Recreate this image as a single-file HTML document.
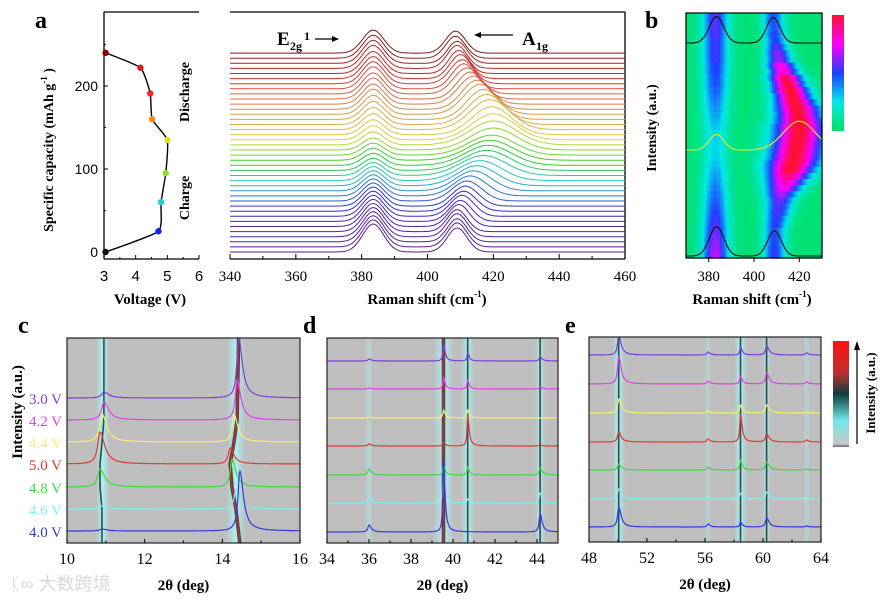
<!DOCTYPE html>
<html><head><meta charset="utf-8"><style>
html,body{margin:0;padding:0;background:#fff;}
svg{display:block;font-family:"Liberation Serif",serif;}
</style></head><body>
<svg id="fig" width="895" height="604" viewBox="0 0 895 604" xmlns="http://www.w3.org/2000/svg">
<defs>
<clipPath id="clipC"><rect x="67" y="338" width="233" height="205"/></clipPath>
<clipPath id="clipD"><rect x="327" y="338" width="231" height="205"/></clipPath>
<clipPath id="clipE"><rect x="589" y="337" width="232" height="205"/></clipPath>
<linearGradient id="glow" x1="0" x2="1" y1="0" y2="0">
<stop offset="0" stop-color="#9ff" stop-opacity="0"/><stop offset="0.5" stop-color="#aff" stop-opacity="0.85"/><stop offset="1" stop-color="#9ff" stop-opacity="0"/></linearGradient>
<linearGradient id="cbarE" x1="0" x2="0" y1="0" y2="1">
<stop offset="0" stop-color="#ff1010"/><stop offset="0.3" stop-color="#c03030"/><stop offset="0.5" stop-color="#103c3c"/><stop offset="0.75" stop-color="#70e8e8"/><stop offset="0.97" stop-color="#c8c8c8"/><stop offset="1" stop-color="#666"/></linearGradient>
<linearGradient id="cbarB" x1="0" x2="0" y1="0" y2="1">
<stop offset="0" stop-color="#ff1030"/><stop offset="0.25" stop-color="#ff00ff"/><stop offset="0.5" stop-color="#2040ff"/><stop offset="0.75" stop-color="#00e8e8"/><stop offset="1" stop-color="#00e060"/></linearGradient>
</defs>
<g id="layer"></g>
</svg>
<script>
// ---------- DATA ----------
const capVoltage = [3.05, 4.72, 4.8, 4.95, 5.0, 4.52, 4.46, 4.15, 3.05];
const capValues  = [0, 25, 60, 95, 135, 160, 191, 222, 240];
const capColors  = ["#111","#1020ff","#20d0d0","#90e020","#e0e020","#ff8c10","#ff2020","#d02020","#8b0000"];
const capTicksY = [0, 100, 200];
const capTicksX = [3, 4, 5, 6];
const ramanE2gPos = 383.5;
const ramanE2gH = [28,27,26,25,24,23,22,21,20,19,18,17,16,15,14,13,12,12,12,12,12,13,14,15,16,17,18,19,20,20,21,21,22,22,22,22,23,23,23,23];
const ramanA1gPos = [409,409,409,409,409,409.5,410,410.5,411,411.5,412,413,414,415,416,417,418,418.5,419,419.5,420,420,420,419.5,419,418,417,416,415,414,413,412,411,410.5,410,409.5,409,409,408.5,408.5];
const ramanA1gW = [3,3,3,3,3,3.2,3.4,3.6,3.8,4,4.5,5,5.5,6,6.5,7,7,7,7,7,7,7,6.5,6,6,5.5,5,5,4.5,4.5,4,4,3.5,3.5,3.2,3,3,3,3,3];
const ramanA1gH = [24,24,23,23,22,22,21,21,20,20,20,20,20,20,20,20,20,20,20,20,22,24,26,28,30,30,30,30,29,28,27,26,25,24,24,23,23,22,22,22];
const ramanTicks = [340,360,380,400,420,440,460];
const bTicks = [380,400,420];
const voltLabels = ["3.0 V","4.2 V","4.4 V","5.0 V","4.8 V","4.6 V","4.0 V"];
const voltColors = ["#7a40d8","#e040e8","#f0f070","#e03838","#40d840","#80f0f0","#3838e0"];
const cPeaks = [10.92, 14.35];
const cPeakPos = [[10.95,10.95,10.9,10.85,10.85,10.9,10.9],[14.42,14.38,14.3,14.2,14.25,14.35,14.45]];
const cPeakH = [[6,18,28,32,18,3,2],[60,40,28,16,28,20,60]];
const cTicks = [10,12,14,16];
const dPeaks = [36.0, 39.55, 40.7, 44.15];
const dPeakH = [[2,1,1,2,6,6,7],[18,12,8,4,10,30,70],[8,9,8,30,8,4,0],[4,2,0,1,7,10,18]];
const dTicks = [34,36,38,40,42,44];
const ePeaks = [50.05, 56.2, 58.45, 60.25, 63.0];
const ePeakH = [[20,28,14,10,6,10,20],[3,3,2,3,3,2,3],[8,8,8,28,10,6,5],[9,11,8,8,8,7,9],[2,2,1,2,1,1,1]];
const eTicks = [48,52,56,60,64];

// ---------- helpers ----------
const NS = "http://www.w3.org/2000/svg";
const layer = document.getElementById("layer");
function mk(tag, attrs, parent){ const e=document.createElementNS(NS,tag); for(const k in attrs) e.setAttribute(k,attrs[k]); (parent||layer).appendChild(e); return e; }
function txt(x,y,s,attrs,parent){ const e=mk("text",Object.assign({x:x,y:y},attrs||{}),parent); e.textContent=s; return e; }
function tsp(parent,s,attrs){ const e=mk("tspan",attrs||{},parent); e.textContent=s; return e; }
const gauss=(x,c,s)=>Math.exp(-(x-c)*(x-c)/(2*s*s));
const lor=(x,c,w)=>1/(1+((x-c)/w)*((x-c)/w));

// ---------- panel a left ----------
const aL={x0:104,x1:199,y0:12,y1:259};
const axV=v=>aL.x0+(v-3)*(aL.x1-aL.x0)/3;
const ayC=c=>252-c*0.83;
let g=mk("g",{});


mk("line",{x1:aL.x0,y1:aL.y0,x2:aL.x1,y2:aL.y0,stroke:"#000","stroke-width":1.3},g);
mk("line",{x1:aL.x0,y1:aL.y0,x2:aL.x0,y2:aL.y1,stroke:"#000","stroke-width":1.3},g);
mk("line",{x1:aL.x0,y1:aL.y1,x2:aL.x1,y2:aL.y1,stroke:"#000","stroke-width":1.3},g);
capTicksY.forEach(t=>{const y=ayC(t);mk("line",{x1:aL.x0,y1:y,x2:aL.x0+4,y2:y,stroke:"#000"},g);
 const l=txt(aL.x0-6,y+5,String(t),{"text-anchor":"end","font-size":14,"font-family":"Liberation Sans, sans-serif"},g);
 });
[50,150,250].forEach(t=>mk("line",{x1:aL.x0,y1:ayC(t),x2:aL.x0+2,y2:ayC(t),stroke:"#000"},g));
capTicksX.forEach(t=>{const x=axV(t);mk("line",{x1:x,y1:aL.y1,x2:x,y2:aL.y1-4,stroke:"#000"},g);
 const l=txt(x,281,String(t),{"text-anchor":"middle","font-size":15,"font-family":"Liberation Sans, sans-serif"},g);
 });
[3.5,4.5,5.5].forEach(t=>mk("line",{x1:axV(t),y1:aL.y1,x2:axV(t),y2:aL.y1-2,stroke:"#000"},g));
const cpts=capVoltage.map((v,i)=>[axV(v),ayC(capValues[i])]);
let pth="M"+cpts[0][0].toFixed(1)+","+cpts[0][1].toFixed(1);
for(let i=0;i<cpts.length-1;i++){const p0=cpts[Math.max(0,i-1)],p1=cpts[i],p2=cpts[i+1],p3=cpts[Math.min(cpts.length-1,i+2)];
 const c1=[p1[0]+(p2[0]-p0[0])/12,p1[1]+(p2[1]-p0[1])/12],c2=[p2[0]-(p3[0]-p1[0])/12,p2[1]-(p3[1]-p1[1])/12];
 pth+=" C"+c1.map(v=>v.toFixed(1)).join(",")+" "+c2.map(v=>v.toFixed(1)).join(",")+" "+p2.map(v=>v.toFixed(1)).join(",");}
const cl=mk("path",{d:pth,fill:"none",stroke:"#000","stroke-width":1.4,"stroke-linejoin":"round"},g);

capVoltage.forEach((v,i)=>{const c=mk("circle",{cx:axV(v),cy:ayC(capValues[i]),r:3.2,fill:capColors[i]},g);
 });
txt(150,304,"Voltage (V)",{"text-anchor":"middle","font-size":15,"font-weight":"bold"},g);
let yt=mk("text",{x:0,y:0,"font-size":14,"font-weight":"bold","text-anchor":"middle",transform:"translate(53,150) rotate(-90)"},g);

tsp(yt,"Specific capacity (mAh g");tsp(yt,"-1",{"font-size":9,dy:-6});tsp(yt," )",{dy:6});
txt(0,0,"Discharge",{"font-size":14,"font-weight":"bold","text-anchor":"middle",transform:"translate(189,92) rotate(-90)"},g);
txt(0,0,"Charge",{"font-size":14,"font-weight":"bold","text-anchor":"middle",transform:"translate(189,198) rotate(-90)"},g);

// ---------- panel a right: Raman ----------
const R={x0:230,x1:625,y0:12,y1:259};
const rx=v=>R.x0+(v-340)*(R.x1-R.x0)/120;
g=mk("g",{});


mk("line",{x1:R.x0,y1:R.y0,x2:R.x1,y2:R.y0,stroke:"#000","stroke-width":1.3},g);
mk("line",{x1:R.x1,y1:R.y0,x2:R.x1,y2:R.y1,stroke:"#000","stroke-width":1.3},g);
mk("line",{x1:R.x0,y1:R.y1,x2:R.x1,y2:R.y1,stroke:"#000","stroke-width":1.3},g);
ramanTicks.forEach(t=>{const x=rx(t);mk("line",{x1:x,y1:R.y1,x2:x,y2:R.y1-5,stroke:"#000"},g);
 if(t<460)mk("line",{x1:rx(t+10),y1:R.y1,x2:rx(t+10),y2:R.y1-3,stroke:"#000"},g);
 const l=txt(x,281,String(t),{"text-anchor":"middle","font-size":15},g);
 });
const nR=ramanE2gH.length;
const hueAnch=[[0,275,32],[8,245,48],[13,190,48],[17,125,48],[22,58,55],[27,32,58],[32,5,55],[39,0,30]];
function ramanColor(i){for(let k=1;k<hueAnch.length;k++){if(i<=hueAnch[k][0]){const a=hueAnch[k-1],b=hueAnch[k];const f=(i-a[0])/(b[0]-a[0]);
 const h=a[1]+(b[1]-a[1])*f,l=a[2]+(b[2]-a[2])*f;return "hsl("+h.toFixed(0)+",65%,"+l.toFixed(0)+"%)";}}return "#600";}
for(let i=0;i<nR;i++){
 const base=252-i*5.1;let d="";
 for(let v=340;v<=460;v+=0.5){const y=base-ramanE2gH[i]*gauss(v,ramanE2gPos,3.2)-ramanA1gH[i]*gauss(v,ramanA1gPos[i],ramanA1gW[i]);
  d+=(v===340?"M":" L")+rx(v).toFixed(1)+","+y.toFixed(1);}
 const p=mk("path",{d:d,fill:"none",stroke:ramanColor(i),"stroke-width":1},g);
 
}
let t1=txt(277,45,"E",{"font-size":19,"font-weight":"bold"},g);

txt(290,50,"2g",{"font-size":12,"font-weight":"bold"},g);
txt(304,40,"1",{"font-size":12,"font-weight":"bold"},g);
mk("line",{x1:315,y1:39,x2:335,y2:39,stroke:"#000","stroke-width":1.2},g);
mk("path",{d:"M339,39 L332,36 L332,42 Z",fill:"#000"},g);
mk("line",{x1:480,y1:35,x2:513,y2:35,stroke:"#000","stroke-width":1.2},g);
mk("path",{d:"M474,35 L481,32 L481,38 Z",fill:"#000"},g);
txt(522,45,"A",{"font-size":19,"font-weight":"bold"},g);
txt(536,50,"1g",{"font-size":12,"font-weight":"bold"},g);
let rt=mk("text",{x:427,y:304,"text-anchor":"middle","font-size":15,"font-weight":"bold"},g);

tsp(rt,"Raman shift (cm");tsp(rt,"-1",{"font-size":9,dy:-7});tsp(rt,")",{dy:7});

// ---------- panel b: heatmap ----------
const B={x0:686,x1:822,y0:13,y1:258};
const bx=v=>B.x0+(v-370)*(B.x1-B.x0)/60;
g=mk("g",{});


const cmapStops=[[0,[0,224,96]],[0.3,[0,232,232]],[0.55,[32,64,255]],[0.78,[255,0,255]],[1,[255,16,48]]];
function cmap(v){v=Math.max(0,Math.min(1,v));for(let k=1;k<cmapStops.length;k++){if(v<=cmapStops[k][0]){const a=cmapStops[k-1],b=cmapStops[k];const f=(v-a[0])/(b[0]-a[0]);return "rgb("+a[1].map((c,j)=>Math.round(c+(b[1][j]-c)*f)).join(",")+")";}}return "rgb(255,16,48)";}
const rowH=(B.y1-B.y0)/nR, colW=(B.x1-B.x0)/60;
for(let i=0;i<nR;i++){for(let c=0;c<60;c++){const v=370+c+0.5;
 const vE=0.72*ramanE2gH[i]/28*gauss(v,383,4.2);
 const vA=Math.min(1,ramanA1gH[i]*ramanA1gW[i]/130)*gauss(v,ramanA1gPos[i],ramanA1gW[i]*1.2);
 const val=0.04+0.96*Math.max(vE,vA);
 mk("rect",{x:(B.x0+c*colW).toFixed(2),y:(B.y1-(i+1)*rowH).toFixed(2),width:(colW+0.6).toFixed(2),height:(rowH+0.6).toFixed(2),fill:cmap(val)},g);}}
function bCurve(i,base,scale,col){let d="";for(let v=370;v<=430;v+=0.5){const y=base-scale*(ramanE2gH[i]*gauss(v,ramanE2gPos,3.2)+ramanA1gH[i]*gauss(v,ramanA1gPos[i],ramanA1gW[i]));d+=(v===370?"M":" L")+bx(v).toFixed(1)+","+y.toFixed(1);}
 const p=mk("path",{d:d,fill:"none",stroke:col,"stroke-width":1.1},g);}
bCurve(0,256,1.05,"#111");bCurve(21,150,1.2,"#f0f020");bCurve(nR-1,43,1.15,"#111");
mk("rect",{x:B.x0,y:B.y0,width:B.x1-B.x0,height:B.y1-B.y0,fill:"none",stroke:"#000","stroke-width":1.2},g);
bTicks.forEach(t=>{const x=bx(t);mk("line",{x1:x,y1:B.y1,x2:x,y2:B.y1+4,stroke:"#000"},g);
 const l=txt(x,281,String(t),{"text-anchor":"middle","font-size":15},g);});
let bt=mk("text",{x:752,y:304,"text-anchor":"middle","font-size":15,"font-weight":"bold"},g);

tsp(bt,"Raman shift (cm");tsp(bt,"-1",{"font-size":9,dy:-7});tsp(bt,")",{dy:7});
txt(0,0,"Intensity (a.u.)",{"font-size":14,"font-weight":"bold","text-anchor":"middle",transform:"translate(656,128) rotate(-90)"},g);
const cbB=mk("rect",{x:832,y:15,width:12,height:116,fill:"url(#cbarB)"});


// ---------- XRD panels ----------
function xrdPanel(name,box,xmin,xmax,ticks,centers,heights,posMat,curveYs,clip,widths,minorStep){
 const gx=mk("g",{});
 
 
 const sx=v=>box.x0+(v-xmin)*(box.x1-box.x0)/(xmax-xmin);
 mk("rect",{x:box.x0,y:box.y0,width:box.x1-box.x0,height:box.y1-box.y0,fill:"#bebebe"},gx);
 const inner=mk("g",{"clip-path":"url(#"+clip+")"},gx);
 centers.forEach((c,k)=>{const maxH=Math.max(...heights[k]);const w=Math.min(20,7+maxH*0.2);
  mk("rect",{x:sx(c)-w/2,y:box.y0,width:w,height:box.y1-box.y0,fill:"url(#glow)",opacity:Math.min(0.9,0.3+maxH/50)},inner);
  if(maxH>=9){let d="";curveYs.forEach((y,j)=>{const p=posMat?posMat[k][j]:c;d+=(j?" L":"M")+sx(p).toFixed(1)+","+(j===0?box.y0:(j===curveYs.length-1?box.y1:y)).toFixed(1);});
   mk("path",{d:d,fill:"none",stroke:"#0d3535","stroke-width":maxH>40?3.5:1.6,opacity:0.85},inner);
   if(maxH>55) mk("path",{d:d,fill:"none",stroke:"#e02020","stroke-width":1.5},inner);}
 });
 curveYs.forEach((y0,j)=>{let d="";const step=(xmax-xmin)/400;
  for(let v=xmin;v<=xmax+1e-9;v+=step){let y=y0;centers.forEach((c,k)=>{const p=posMat?posMat[k][j]:c;const w=widths[k];
    y-=heights[k][j]*(v<p?lor(v,p,w*0.8):lor(v,p,w*1.6));});
   d+=(v===xmin?"M":" L")+sx(v).toFixed(1)+","+y.toFixed(1);}
  const pp=mk("path",{d:d,fill:"none",stroke:voltColors[j],"stroke-width":1.2},inner);
  
 });
 mk("rect",{x:box.x0,y:box.y0,width:box.x1-box.x0,height:box.y1-box.y0,fill:"none",stroke:"#222","stroke-width":1.2},gx);
 ticks.forEach(t=>{const x=sx(t);mk("line",{x1:x,y1:box.y1,x2:x,y2:box.y1-4,stroke:"#000"},gx);
  const l=txt(x,box.y1+21,String(t),{"text-anchor":"middle","font-size":16},gx);});
 for(let t=ticks[0]+minorStep;t<ticks[ticks.length-1];t+=minorStep*2) mk("line",{x1:sx(t),y1:box.y1,x2:sx(t),y2:box.y1-2.5,stroke:"#000"},gx);
 txt((box.x0+box.x1)/2,box.y1+47,"2θ (deg)",{"text-anchor":"middle","font-size":15,"font-weight":"bold"},gx);
 return gx;
}
xrdPanel("xrd-panel-c",{x0:67,x1:300,y0:338,y1:543},10,16,cTicks,cPeaks,cPeakH,cPeakPos,[398,420,442,464,487,509,531],"clipC",[0.09,0.07],1);
xrdPanel("xrd-panel-d",{x0:327,x1:558,y0:338,y1:543},34,45,dTicks,dPeaks,dPeakH,null,[361,389,418,446,475,503,532],"clipD",[0.08,0.05,0.05,0.07],1);
xrdPanel("xrd-panel-e",{x0:589,x1:821,y0:337,y1:542},48,64,eTicks,ePeaks,ePeakH,null,[355,384,413,442,470,499,527],"clipE",[0.12,0.1,0.08,0.12,0.1],2);

const vy=[398,420,442,464,487,509,531];
voltLabels.forEach((s,j)=>{const l=txt(62,vy[j]+6,s,{"text-anchor":"end","font-size":15,fill:voltColors[j]});
 });
txt(0,0,"Intensity (a.u.)",{"font-size":15,"font-weight":"bold","text-anchor":"middle",transform:"translate(22,412) rotate(-90)"});
const cbE=mk("rect",{x:833,y:341,width:16,height:106,fill:"url(#cbarE)"});

mk("line",{x1:857,y1:444,x2:857,y2:348,stroke:"#000","stroke-width":1.2});
mk("path",{d:"M857,341 L854,350 L860,350 Z",fill:"#000"});
txt(0,0,"Intensity (a.u.)",{"font-size":13,"font-weight":"bold","text-anchor":"middle",transform:"translate(875,393) rotate(-90)"});

[["a",35,28],["b",645,28],["c",18,333],["d",303,333],["e",565,333]].forEach(a=>{
 const l=txt(a[1],a[2],a[0],{"font-size":24,"font-weight":"bold"});});
const wm=txt(10,590,"ᛕ∞ 大数跨境",{"font-size":18,fill:"#d8d8d8","font-family":"Liberation Sans, Noto Sans CJK SC, sans-serif"});

</script>
</body></html>
